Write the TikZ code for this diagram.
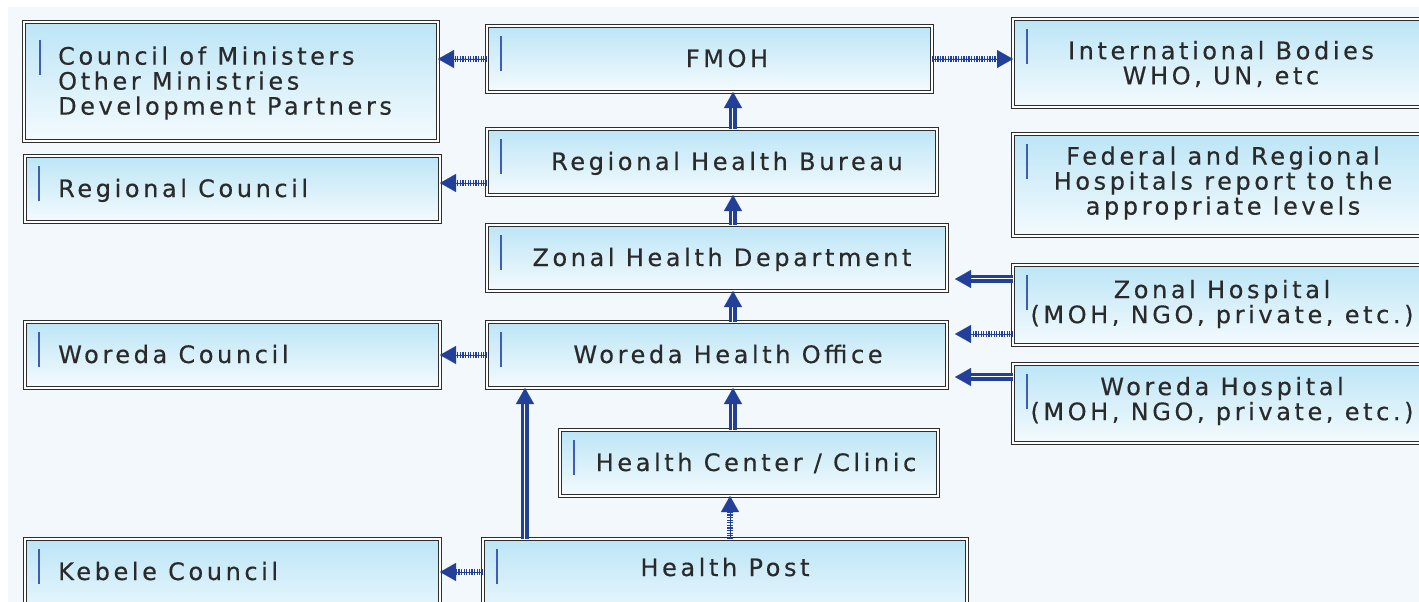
\documentclass[tikz,border=0pt]{standalone}
\usepackage{fontspec}
\newfontfamily\bxfont{DejaVu Sans}[LetterSpace=15,FakeBold=0.4]
\usetikzlibrary{arrows.meta,calc,fit}
\definecolor{bgc}{HTML}{F2F8FC}
\definecolor{ablue}{HTML}{22409A}
\definecolor{btop}{HTML}{BCE5F6}
\definecolor{bbot}{HTML}{F4FBFE}
\definecolor{bord}{HTML}{2E2E2E}
\definecolor{txtc}{HTML}{2A2A2A}
\definecolor{barc}{HTML}{3D5DB8}
\newcommand\mybox[5]{\node[bx, fit={(#2,#3) (#4,#5)}] (#1) {};}
\tikzset{
  bx/.style={draw=bord, line width=1.4pt, double=white, double distance=1.3pt,
    top color=btop, bottom color=bbot, inner sep=0pt, outer sep=0pt},
  tx/.style={font=\bxfont\fontsize{24}{25}\selectfont, text=txtc, inner sep=0pt, align=center},
  barl/.style={draw=barc, line width=1.4pt},
  tipA/.style={draw=ablue, fill=ablue, line width=0.1pt, -{Triangle[length=16pt,width=18pt]}},
  dotc/.style={tipA, preaction={draw=ablue, -, line width=6.5pt, dash pattern=on 1.3pt off 1.3pt, shorten >=14pt}},
  dblc/.style={tipA, preaction={draw=ablue, -, double=white, double distance=2.6pt, line width=2.3pt, shorten >=14pt}},
}
\begin{document}
\begin{tikzpicture}[x=1pt,y=-1pt]
\useasboundingbox (0,0) rectangle (1419,602);
\clip (0,0) rectangle (1419,602);
\fill[bgc] (8,7) rectangle (1419,602);
% boxes
\mybox{council}{24}{22}{438}{141}
\mybox{regc}{25}{156}{440}{222}
\mybox{fmoh}{487}{26}{932}{92}
\mybox{rhb}{487}{129}{937}{195}
\mybox{zhd}{487}{225}{947}{291}
\mybox{wo}{487}{322}{947}{388}
\mybox{worc}{25}{322}{440}{388}
\mybox{hc}{560}{430}{938}{496}
\mybox{hp}{483}{539}{967}{630}
\mybox{keb}{25}{539}{440}{630}
\mybox{intl}{1013}{19}{1440}{107}
\mybox{fed}{1013}{134}{1440}{236}
\mybox{zh}{1013}{265}{1440}{345}
\mybox{wh}{1013}{364}{1440}{443}
% small bars
\foreach \n in {regc,fmoh,rhb,zhd,wo,worc,hc,hp,keb,intl,fed,zh,wh}
  \draw[barl] ($(\n.north west)+(14,10)$) -- ++(0,35);
\draw[barl] ($(council.north west)+(16,18)$) -- ++(0,35);
% texts
\node[tx, anchor=west, align=left] (t-council) at (58,83) {Council of Ministers\\Other Ministries\\Development Partners};
\node[tx, anchor=base west] (t-regc) at (58,197) {Regional Council};
\node[tx, anchor=base west] (t-worc) at (58,363) {Woreda Council};
\node[tx, anchor=base west] (t-keb) at (58,580) {Kebele Council};
\node[tx, anchor=base] (t-fmoh) at (727,67) {FMOH};
\node[tx, anchor=base] (t-rhb) at (727,170) {Regional Health Bureau};
\node[tx, anchor=base] (t-zhd) at (722,266) {Zonal Health Department};
\node[tx, anchor=base] (t-wo) at (728,363) {Woreda Health Office};
\node[tx, anchor=base] (t-hc) at (756,471) {Health Center / Clinic};
\node[tx, anchor=base] (t-hp) at (725,576) {Health Post};
\node[tx] (t-intl) at (1221,64) {International Bodies\\WHO, UN, etc};
\node[tx] (t-fed) at (1223,183) {Federal and Regional\\Hospitals report to the\\appropriate levels};
\node[tx] (t-zh) at (1222,304) {Zonal Hospital\\(MOH, NGO, private, etc.)};
\node[tx] (t-wh) at (1222,401) {Woreda Hospital\\(MOH, NGO, private, etc.)};
% helper coordinates
\coordinate (ax) at (733,0);
\coordinate (hx) at (525,0);
\coordinate (px) at (730,0);
\coordinate (ry) at (0,183);
\coordinate (zy) at (0,279);
\coordinate (zy2) at (0,334);
\coordinate (wy) at (0,377);
\coordinate (ky) at (0,572);
% connectors
\draw[dotc] (fmoh.west) -- (council.east |- fmoh.west);
\draw[dotc] (fmoh.east) -- (intl.west |- fmoh.east);
\draw[dblc] (rhb.north -| ax) -- (fmoh.south -| ax);
\draw[dotc] (rhb.west |- ry) -- (regc.east |- ry);
\draw[dblc] (zhd.north -| ax) -- (rhb.south -| ax);
\draw[dblc] (wo.north -| ax) -- (zhd.south -| ax);
\draw[dblc] (zh.west |- zy) -- ($(zhd.east |- zy)+(8,0)$);
\draw[dotc] (zh.west |- zy2) -- ($(wo.east |- zy2)+(8,0)$);
\draw[dblc] (wh.west |- wy) -- ($(wo.east |- wy)+(8,0)$);
\draw[dotc] (wo.west) -- (worc.east |- wo.west);
\draw[dblc] (hc.north -| ax) -- (wo.south -| ax);
\draw[dblc] (hp.north -| hx) -- (wo.south -| hx);
\draw[dotc] (hp.north -| px) -- (hc.south -| px);
\draw[dotc] (hp.west |- ky) -- (keb.east |- ky);
\end{tikzpicture}
\end{document}
